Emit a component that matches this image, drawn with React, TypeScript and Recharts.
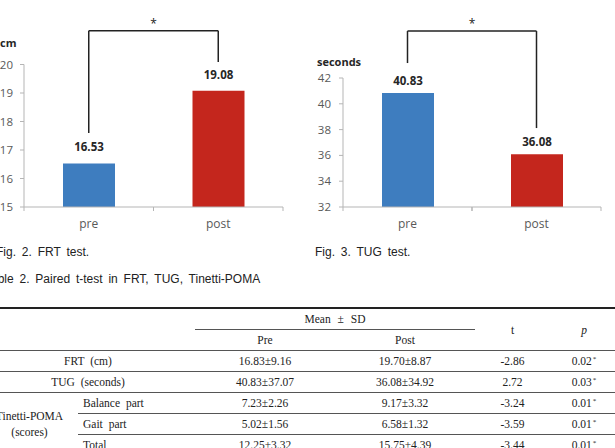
import React from 'react';
import { BarChart, Bar, XAxis, YAxis, Cell, LabelList, ReferenceLine } from 'recharts';

// ---- chart data ----
const categories = ['pre', 'post'];
const frtValues = [16.53, 19.08];
const tugValues = [40.83, 36.08];
const frtTicks = [15, 16, 17, 18, 19, 20];
const tugTicks = [32, 34, 36, 38, 40, 42];
// significance bracket levels (data units): top bar, left leg end, right leg end
const frtBracket = [21.18, 17.6, 20.09];
const tugBracket = [45.64, 43.16, 38.12];

// ---- table data ----
const simpleRows = ['FRT (cm)', 'TUG (seconds)'];
const tinettiParts = ['Balance part', 'Gait part', 'Total'];
const preValues = ['16.83±9.16', '40.83±37.07', '7.23±2.26', '5.02±1.56', '12.25±3.32'];
const postValues = ['19.70±8.87', '36.08±34.92', '9.17±3.32', '6.58±1.32', '15.75±4.39'];
const tValues = ['-2.86', '2.72', '-3.24', '-3.59', '-3.44'];
const pValues = ['0.02', '0.03', '0.01', '0.01', '0.01'];

const barColors = ['#3E7DBF', '#C4261D'];
const axisColor = '#b5b5b5';
const tickColor = '#595959';
const chartFont = '"Open Sans", "Noto Sans", sans-serif';

type ChartProps = {
  values: number[];
  ticks: number[];
  bracket: number[];
  width: number;
  yWidth: number;
  marginRight: number;
  marginTop: number;
  labelOffset: number;
  tickMarginY: number;
};

function SigChart(p: ChartProps) {
  const data = categories.map((name, i) => ({ name, value: p.values[i] }));
  const plotW = p.width - p.yWidth - p.marginRight;
  const half = plotW / (2 * categories.length);
  const tickSize = 6;
  const tickMargin = 6;
  const renderTick = (props: any) => {
    const { x, y, payload } = props;
    const off = payload && typeof payload.offset === 'number' && payload.offset > 0 ? payload.offset : half;
    const axisY = y - tickSize - tickMargin;
    return (
      <g>
        <line x1={x - off} x2={x - off} y1={axisY} y2={axisY + 4} stroke={axisColor} />
        <line x1={x + off} x2={x + off} y1={axisY} y2={axisY + 4} stroke={axisColor} />
        <text x={x} y={y} dy="0.71em" textAnchor="middle" fill={tickColor} fontSize={12} fontFamily={chartFont}>
          {payload.value}
        </text>
      </g>
    );
  };
  const c0 = categories[0];
  const c1 = categories[1];
  return (
    <BarChart
      width={p.width}
      height={235}
      data={data}
      margin={{ top: p.marginTop, right: p.marginRight, left: 0, bottom: 0 }}
    >
      <XAxis
        dataKey="name"
        axisLine={{ stroke: axisColor }}
        tickLine={false}
        tickSize={tickSize}
        tickMargin={tickMargin}
        height={28}
        tick={renderTick}
        interval={0}
      />
      <YAxis
        domain={[p.ticks[0], p.ticks[p.ticks.length - 1]]}
        ticks={p.ticks}
        interval={0}
        width={p.yWidth}
        tickSize={4}
        tickMargin={p.tickMarginY}
        axisLine={{ stroke: axisColor }}
        tickLine={{ stroke: axisColor }}
        tick={{ fill: tickColor, fontSize: 11.5, fontFamily: chartFont }}
        allowDataOverflow
      />
      <Bar dataKey="value" barSize={52} isAnimationActive={false}>
        {data.map((d, i) => (
          <Cell key={d.name} fill={barColors[i]} />
        ))}
        <LabelList
          dataKey="value"
          position="top"
          offset={p.labelOffset}
          fill="#262626"
          fontSize={11.5}
          fontWeight={700}
          fontFamily={chartFont}
        />
      </Bar>
      <ReferenceLine
        segment={[{ x: c0, y: p.bracket[1] }, { x: c0, y: p.bracket[0] }]}
        stroke="#222"
        strokeWidth={1.5}
        ifOverflow="visible"
      />
      <ReferenceLine
        segment={[{ x: c0, y: p.bracket[0] }, { x: c1, y: p.bracket[0] }]}
        stroke="#222"
        strokeWidth={1.5}
        ifOverflow="visible"
        label={{ value: '*', position: 'top', offset: 3, fill: '#222', fontSize: 12, fontFamily: chartFont }}
      />
      <ReferenceLine
        segment={[{ x: c1, y: p.bracket[0] }, { x: c1, y: p.bracket[2] }]}
        stroke="#222"
        strokeWidth={1.5}
        ifOverflow="visible"
      />
    </BarChart>
  );
}

const thin = '1px solid #555';
const cellBase: React.CSSProperties = {
  padding: 0,
  height: 20,
  textAlign: 'center',
  verticalAlign: 'middle',
  whiteSpace: 'nowrap',
};

function Star() {
  return <span style={{ fontSize: 7, position: 'relative', top: -4, marginLeft: 1 }}>*</span>;
}

function DataTable() {
  const rowCells = (i: number, top: string) => [
    <td key="pre" style={{ ...cellBase, borderTop: top }}>{preValues[i]}</td>,
    <td key="post" style={{ ...cellBase, borderTop: top }}>{postValues[i]}</td>,
    <td key="t" style={{ ...cellBase, borderTop: top }}>{tValues[i]}</td>,
    <td key="p" style={{ ...cellBase, borderTop: top }}>
      {pValues[i]}
      <Star />
    </td>,
  ];
  return (
    <table
      style={{
        position: 'absolute',
        left: -19,
        top: 307,
        width: 637,
        borderCollapse: 'collapse',
        tableLayout: 'fixed',
        fontFamily: '"Liberation Serif", "Times New Roman", serif',
        fontSize: 11.5,
        color: '#222',
        wordSpacing: 3,
        borderTop: '2px solid #222',
      }}
    >
      <colgroup>
        <col style={{ width: 97 }} />
        <col style={{ width: 117 }} />
        <col style={{ width: 140 }} />
        <col style={{ width: 140 }} />
        <col style={{ width: 75 }} />
        <col style={{ width: 68 }} />
      </colgroup>
      <tbody>
        <tr>
          <td colSpan={2} rowSpan={2} style={cellBase}></td>
          <td colSpan={2} style={{ ...cellBase, borderBottom: thin, wordSpacing: 4 }}>Mean ± SD</td>
          <td rowSpan={2} style={cellBase}>t</td>
          <td rowSpan={2} style={{ ...cellBase, fontStyle: 'italic' }}>p</td>
        </tr>
        <tr>
          <td style={cellBase}>Pre</td>
          <td style={cellBase}>Post</td>
        </tr>
        {simpleRows.map((label, i) => (
          <tr key={label}>
            <td colSpan={2} style={{ ...cellBase, borderTop: thin }}>{label}</td>
            {rowCells(i, thin)}
          </tr>
        ))}
        {tinettiParts.map((part, j) => (
          <tr key={part}>
            {j === 0 && (
              <td rowSpan={3} style={{ ...cellBase, borderTop: thin, lineHeight: '16px' }}>
                Tinetti-POMA
                <br />
                (scores)
              </td>
            )}
            <td style={{ ...cellBase, borderTop: thin, textAlign: 'left', paddingLeft: 5 }}>{part}</td>
            {rowCells(j + 2, thin)}
          </tr>
        ))}
      </tbody>
    </table>
  );
}

const captionStyle: React.CSSProperties = {
  position: 'absolute',
  fontFamily: '"Liberation Sans", Arial, sans-serif',
  fontSize: 12,
  lineHeight: '14px',
  color: '#222',
  wordSpacing: 2.5,
  whiteSpace: 'nowrap',
};

const unitStyle: React.CSSProperties = {
  position: 'absolute',
  fontFamily: chartFont,
  fontSize: 11,
  fontWeight: 700,
  lineHeight: '14px',
  color: '#262626',
};

export default function App() {
  return (
    <div
      style={{
        position: 'absolute',
        left: 0,
        top: 0,
        width: 615,
        height: 448,
        overflow: 'hidden',
        background: '#fff',
      }}
    >
      <div style={{ position: 'absolute', left: 0, top: 0 }}>
        <SigChart
          values={frtValues}
          ticks={frtTicks}
          bracket={frtBracket}
          width={300}
          yWidth={24}
          marginRight={17}
          marginTop={64.5}
          labelOffset={12}
          tickMarginY={7}
        />
      </div>
      <div style={{ position: 'absolute', left: 300, top: 0 }}>
        <SigChart
          values={tugValues}
          ticks={tugTicks}
          bracket={tugBracket}
          width={315}
          yWidth={43}
          marginRight={14}
          marginTop={78}
          labelOffset={8}
          tickMarginY={8}
        />
      </div>
      <div style={{ ...unitStyle, left: 0, top: 36 }}>cm</div>
      <div style={{ ...unitStyle, left: 317, top: 55 }}>seconds</div>
      <div style={{ ...captionStyle, left: -4, top: 245 }}>Fig. 2. FRT test.</div>
      <div style={{ ...captionStyle, left: 315, top: 245 }}>Fig. 3. TUG test.</div>
      <div style={{ ...captionStyle, left: -15, top: 272 }}>Table 2. Paired t-test in FRT, TUG, Tinetti-POMA</div>
      <DataTable />
    </div>
  );
}
